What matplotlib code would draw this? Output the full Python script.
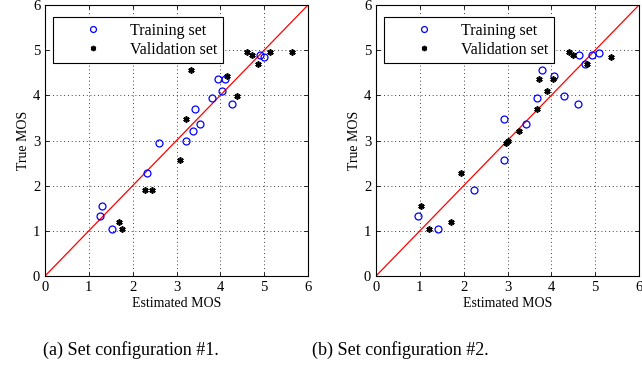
import matplotlib
matplotlib.use("Agg")
import matplotlib.pyplot as plt
import numpy as np

plt.rcParams['font.family'] = ['Liberation Serif', 'DejaVu Serif']
plt.rcParams['mathtext.fontset'] = 'stix'

# Set configuration #1
train1_est = [4.91, 4.99, 3.95, 4.10, 4.04, 3.81, 4.27, 3.43, 3.53, 3.38, 3.21, 2.59, 2.33, 1.31, 1.26, 1.53]
train1_true = [4.90, 4.84, 4.37, 4.37, 4.09, 3.95, 3.80, 3.70, 3.37, 3.22, 2.99, 2.94, 2.28, 1.56, 1.32, 1.03]
val1_est = [4.61, 4.72, 5.14, 5.63, 4.87, 3.34, 4.15, 4.37, 3.21, 3.08, 2.27, 2.44, 1.68, 1.76]
val1_true = [4.95, 4.90, 4.95, 4.95, 4.70, 4.56, 4.42, 3.99, 3.47, 2.56, 1.90, 1.90, 1.19, 1.04]

# Set configuration #2
train2_est = [4.64, 4.92, 5.08, 4.77, 3.79, 4.07, 3.68, 4.28, 4.61, 2.92, 3.42, 2.93, 2.24, 0.95, 1.42]
train2_true = [4.89, 4.89, 4.94, 4.70, 4.56, 4.42, 3.95, 3.98, 3.80, 3.47, 3.37, 2.56, 1.90, 1.32, 1.03]
val2_est = [4.40, 4.50, 4.82, 5.36, 3.71, 4.03, 3.89, 3.68, 3.26, 2.96, 3.00, 1.93, 1.03, 1.72, 1.22]
val2_true = [4.95, 4.89, 4.70, 4.85, 4.37, 4.37, 4.09, 3.70, 3.22, 2.95, 3.00, 2.28, 1.56, 1.19, 1.03]

ticks = [0, 1, 2, 3, 4, 5, 6]
captions = ["(a) Set configuration #1.", "(b) Set configuration #2."]

W, H = 642, 367
fig = plt.figure(figsize=(W / 100, H / 100), dpi=100)

axes_px = [(45, 5, 263, 271), (376, 5, 263, 271)]
data = [(train1_est, train1_true, val1_est, val1_true),
        (train2_est, train2_true, val2_est, val2_true)]

for (x0, y0, w, h), (te, tt, ve, vt) in zip(axes_px, data):
    ax = fig.add_axes([x0 / W, 1 - (y0 + h) / H, w / W, h / H])
    ax.plot([0, 6], [0, 6], color='red', lw=0.9, zorder=2)
    ax.plot(te, tt, linestyle='none', marker='o', markerfacecolor='none',
            markeredgecolor='blue', markersize=5, markeredgewidth=0.9,
            label='Training set', zorder=3)
    ax.plot(ve, vt, linestyle='none', marker=(6, 2, 0), color='black',
            markersize=4.5, markeredgewidth=1.2, label='Validation set', zorder=3)
    ax.set_xlim(0, 6)
    ax.set_ylim(0, 6)
    ax.set_xticks(ticks)
    ax.set_yticks(ticks)
    ax.grid(True, color='black', linestyle=(0, (1, 3.5)), linewidth=0.6)
    ax.tick_params(direction='in', top=True, right=True, labelsize=10.5,
                   length=3, width=0.6)
    for s in ax.spines.values():
        s.set_linewidth(0.8)
    ax.set_xlabel('Estimated MOS', fontsize=10, labelpad=2)
    ax.set_ylabel('True MOS', fontsize=10, labelpad=2)
    leg = ax.legend(loc='upper left', bbox_to_anchor=(8 / w, 1 - 12 / h),
                    fontsize=11.5, frameon=True, fancybox=False,
                    edgecolor='black', framealpha=1, borderaxespad=0,
                    handletextpad=0.15, borderpad=0.35, labelspacing=0.2,
                    handlelength=4.3, markerscale=0.85)
    leg.get_frame().set_linewidth(0.8)

fig.text(131 / W, 1 - 350 / H, captions[0], ha='center', va='center', fontsize=13)
fig.text(400 / W, 1 - 350 / H, captions[1], ha='center', va='center', fontsize=13)

fig.savefig('out.png', dpi=100)
